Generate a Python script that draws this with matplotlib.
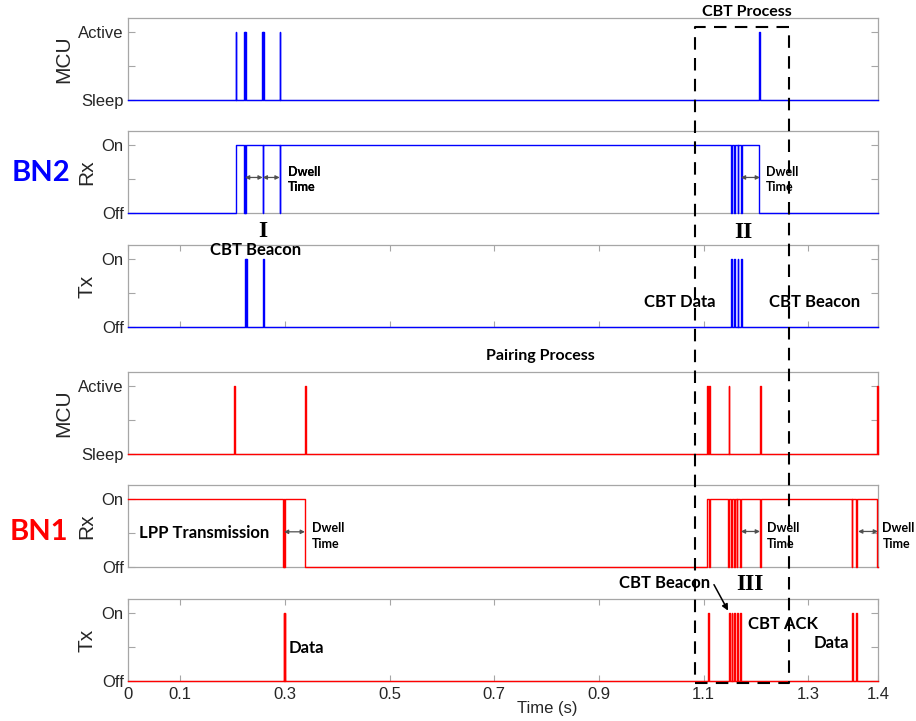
import matplotlib
matplotlib.use("Agg")
import matplotlib.pyplot as plt
from matplotlib.lines import Line2D
from matplotlib.transforms import blended_transform_factory

# right edge of the time axis (labelled "1.4" in the original)
XMAX = 1.433
W = 0.0012  # width of a short pulse / dip

# ---- signal data (times in s) ----
bn2_mcu_pulses = [0.206, 0.222, 0.2245, 0.256, 0.2585, 0.290, 1.206]
bn2_rx_edges = [0.206, 1.206]          # starts Off
bn2_rx_dips = [0.222, 0.2245, 0.2575, 0.290, 1.152, 1.158, 1.165, 1.171]
bn2_tx_pulses = [0.2235, 0.2258, 0.258, 1.152, 1.158, 1.165, 1.171]

bn1_mcu_pulses = [0.203, 0.338, 1.107, 1.110, 1.148, 1.2075, 1.4315]
bn1_rx_edges = [0.338, 1.107, 1.4318]  # starts On
bn1_rx_dips = [0.2965, 0.299, 1.1105, 1.147, 1.152, 1.158, 1.163, 1.170,
               1.2075, 1.383, 1.391]
bn1_tx_pulses = [0.2975, 0.2995, 1.109, 1.1484, 1.1535, 1.1585, 1.1636,
                 1.170, 1.384, 1.391]

xtick_pos = [0, 0.1, 0.3, 0.5, 0.7, 0.9, 1.1, 1.3, XMAX]
xtick_labels = ["0", "0.1", "0.3", "0.5", "0.7", "0.9", "1.1", "1.3", "1.4"]


def square(start_level, edges, pulses):
    # build a 0/1 step signal that toggles at every edge and pulse border
    toggles = sorted(list(edges) + [p for p in pulses] + [p + W for p in pulses])
    xs, ys = [0.0], [start_level]
    lvl = start_level
    for t in toggles:
        xs += [t, t]
        ys += [lvl, 1 - lvl]
        lvl = 1 - lvl
    xs.append(XMAX)
    ys.append(lvl)
    return xs, ys


fig = plt.figure(figsize=(9.16, 7.21), dpi=100)

FW, FH = 916.0, 721.0
left, width = 128 / FW, 750 / FW
bottoms_px = [100, 213, 327, 454, 567, 681]
height = 82 / FH

GRAY = "#a6a6a6"
TXT = "#262626"
BLUE = "#0000ff"
RED = "#ff0000"

panels = [
    ("MCU", ["Sleep", "", "Active"], BLUE, square(0, [], bn2_mcu_pulses)),
    ("Rx", ["Off", "", "On"], BLUE, square(0, bn2_rx_edges, bn2_rx_dips)),
    ("Tx", ["Off", "", "On"], BLUE, square(0, [], bn2_tx_pulses)),
    ("MCU", ["Sleep", "", "Active"], RED, square(0, [], bn1_mcu_pulses)),
    ("Rx", ["Off", "", "On"], RED, square(1, bn1_rx_edges, bn1_rx_dips)),
    ("Tx", ["Off", "", "On"], RED, square(0, [], bn1_tx_pulses)),
]

axes = []
for i, (lab, ylabs, col, (xs, ys)) in enumerate(panels):
    ax = fig.add_axes([left, 1 - bottoms_px[i] / FH, width, height])
    ax.plot(xs, ys, color=col, lw=1.0, clip_on=False, zorder=3)
    ax.set_xlim(0, XMAX)
    ax.set_ylim(0, 1.2)
    ax.set_yticks([0, 0.5, 1])
    ax.set_yticklabels(ylabs)
    for s in ax.spines.values():
        s.set_color(GRAY)
        s.set_linewidth(0.9)
    ax.tick_params(axis="y", direction="in", left=True, right=True, length=5,
                   color=GRAY, labelcolor=TXT, labelsize=12, pad=3)
    if lab == "Tx":
        ax.set_xticks(xtick_pos)
        ax.tick_params(axis="x", direction="in", top=True, bottom=True, length=4,
                       color=GRAY, labelcolor=TXT, labelsize=12, pad=4)
    else:
        ax.set_xticks([])
    if i == 5:
        ax.set_xticklabels(xtick_labels)
    else:
        ax.set_xticklabels([])
    ax.set_ylabel(lab, fontsize=15, color=TXT, labelpad=4)
    for t in ax.get_yticklabels() + ax.get_xticklabels():
        t.set_family("Liberation Sans")
    ax.yaxis.label.set_family("Liberation Sans")
    axes.append(ax)

fig.text(547 / FW, 1 - 708 / FH, "Time (s)", ha="center", va="center",
         fontsize=12, color=TXT, family="Liberation Sans")

# group labels
fig.text(41 / FW, 1 - 173 / FH, "BN2", color=BLUE, fontsize=21,
         fontweight="bold", family="Lato", ha="center", va="center")
fig.text(39 / FW, 1 - 532 / FH, "BN1", color=RED, fontsize=21,
         fontweight="bold", family="Lato", ha="center", va="center")

bold = dict(fontweight="bold", family="Lato", color="black")


def dwell(ax, t1, t2, y, tx, ty):
    ax.annotate("", xy=(t2, y), xytext=(t1, y),
                arrowprops=dict(arrowstyle="<|-|>", color="#505050", lw=0.9,
                                mutation_scale=6, shrinkA=0, shrinkB=0))
    ax.text(tx, ty, "Dwell\nTime", fontsize=9, ha="left", va="center",
            linespacing=1.35, **bold)


# BN2 Rx
dwell(axes[1], 0.2235, 0.2574, 0.52, 0.306, 0.49)
dwell(axes[1], 0.2574, 0.2898, 0.52, 0.306, 0.49)
dwell(axes[1], 1.171, 1.2075, 0.52, 1.219, 0.49)
axes[1].text(0.2576, -0.27, "I", fontsize=17, fontweight="bold",
             family="Liberation Serif", ha="center", va="center")
axes[1].text(1.175, -0.28, "II", fontsize=17, fontweight="bold",
             family="Liberation Serif", ha="center", va="center")

# BN2 Tx
axes[2].text(0.2445, 1.12, "CBT Beacon", fontsize=12, ha="center", va="center", **bold)
axes[2].text(1.0547, 0.37, "CBT Data", fontsize=12, ha="center", va="center", **bold)
axes[2].text(1.3126, 0.37, "CBT Beacon", fontsize=12, ha="center", va="center", **bold)

# BN1 MCU
axes[3].text(0.787, 1.43, "Pairing Process", fontsize=11.5, ha="center",
             va="center", **bold)

# BN1 Rx
axes[4].text(0.145, 0.50, "LPP Transmission", fontsize=12, ha="center",
             va="center", **bold)
dwell(axes[4], 0.298, 0.338, 0.515, 0.3515, 0.45)
dwell(axes[4], 1.171, 1.2075, 0.52, 1.221, 0.45)
dwell(axes[4], 1.395, XMAX, 0.52, 1.4415, 0.45)

# BN1 Tx
axes[5].text(0.3076, 0.485, "Data", fontsize=12, ha="left", va="center", **bold)
axes[5].text(1.026, 1.44, "CBT Beacon", fontsize=12, ha="center", va="center", **bold)
axes[5].annotate("", xy=(1.1465, 1.03), xytext=(1.1196, 1.41),
                 arrowprops=dict(arrowstyle="-|>", color="black", lw=1.1,
                                 mutation_scale=9, shrinkA=0, shrinkB=0),
                 annotation_clip=False)
axes[5].text(1.188, 1.41, "III", fontsize=17, fontweight="bold",
             family="Liberation Serif", ha="center", va="center")
axes[5].text(1.2514, 0.84, "CBT ACK", fontsize=12, ha="center", va="center", **bold)
axes[5].text(1.343, 0.56, "Data", fontsize=12, ha="center", va="center", **bold)

# dashed "CBT Process" box spanning all panels
tr = blended_transform_factory(axes[5].transData, fig.transFigure)
bx0, bx1 = 1.0835, 1.2635
by0, by1 = 1 - 683 / FH, 1 - 26.7 / FH
fig.add_artist(Line2D([bx0, bx1, bx1, bx0, bx0], [by0, by0, by1, by1, by0],
                      transform=tr, color="black", lw=1.5,
                      linestyle=(0, (6, 4)), zorder=10))
fig.text(747 / FW, 1 - 12 / FH, "CBT Process", fontsize=11.5, ha="center",
         va="center", **bold)

fig.savefig("out.png", dpi=100)
